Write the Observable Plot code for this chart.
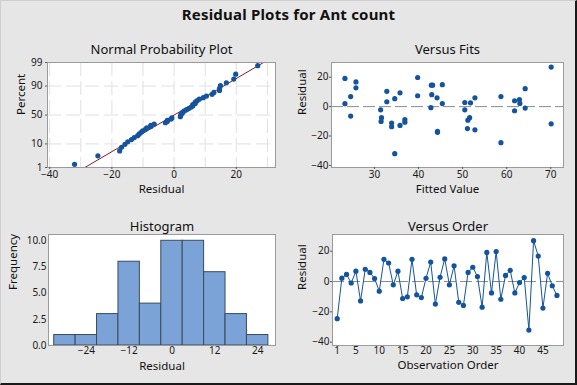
<!DOCTYPE html>
<html><head><meta charset="utf-8">
<script src="https://cdn.jsdelivr.net/npm/d3@7"></script>
<script src="https://cdn.jsdelivr.net/npm/@observablehq/plot@0.6"></script>
<style>
html,body{margin:0;padding:0;background:#e6e6e6;}
#wrap{position:relative;width:577px;height:385px;background:#e6e6e6;overflow:hidden;font-family:"Noto Sans",sans-serif;}
#title{position:absolute;left:0;top:4px;width:577px;text-align:center;font-weight:bold;font-size:15px;color:#111;letter-spacing:0.2px;}
.panel{position:absolute;}
.panel svg{overflow:visible;}
#edge{position:absolute;left:0;top:0;width:577px;height:385px;box-sizing:border-box;border-right:2px solid #1a1a1a;border-bottom:2px solid #1a1a1a;border-left:1px solid #cfcfcf;border-top:1px solid #cfcfcf;pointer-events:none;}
</style></head><body>
<div id="wrap">
<div id="title">Residual Plots for Ant count</div>
<div class="panel" id="npp" style="left:0;top:30px"></div>
<div class="panel" id="vfits" style="left:288px;top:30px"></div>
<div class="panel" id="hist" style="left:0;top:205px"></div>
<div class="panel" id="vorder" style="left:288px;top:205px"></div>
<div id="edge"></div>
</div>
<script>
// ---- data ----
const residuals = [-24.5, 2.2, 4.7, -1.0, 6.8, -12.8, 8.1, 6.0, 2.0, -6.4,
  14.6, 12.2, -2.2, 6.8, -11.2, -10.1, 14.6, -8.8, -10.6, 2.1,
  12.8, -14.9, 2.8, 14.9, -2.2, 10.4, -13.7, -15.8, 6.0, 9.4,
  3.3, -16.9, 19.2, -7.5, 19.8, -11.7, 4.0, 7.4, -7.5, -0.7,
  2.6, -32.0, 26.9, 16.8, -17.5, 5.4, -2.8, -9.2];
const fits = [58.7, 63.0, 62.9, 64.2, 24.6, 35.8, 43.0, 44.2, 23.3, 24.6,
  42.9, 64.2, 31.4, 58.7, 33.9, 31.5, 43.2, 36.9, 36.9, 45.4,
  25.8, 51.1, 50.5, 45.4, 50.5, 32.8, 33.9, 52.8, 52.8, 35.8,
  32.8, 44.3, 23.3, 31.6, 39.8, 70.1, 61.8, 39.8, 51.6, 42.8,
  51.8, 34.6, 70.1, 25.8, 44.3, 34.6, 61.8, 51.2];
const pctTicks = [1, 10, 50, 90, 99];
const pctGrid = [10, 50, 90];
const nppXTicks = [-40, -20, 0, 20];
const nppXGrid = [-40, -30, -20, -10, 0, 10, 20, 30];
const fitsXTicks = [30, 40, 50, 60, 70];
const resTicks = [20, 0, -20, -40];
const histEdges = [-33, -27, -21, -15, -9, -3, 3, 9, 15, 21, 27];
const histXTicks = [-24, -12, 0, 12, 24];
const freqTicks = [0, 2.5, 5, 7.5, 10];
const orderTicks = [1, 5, 10, 15, 20, 25, 30, 35, 40, 45];

// ---- helpers ----
function invNorm(p){
  const a=[-3.969683028665376e+01,2.209460984245205e+02,-2.759285104469687e+02,1.383577518672690e+02,-3.066479806614716e+01,2.506628277459239e+00];
  const b=[-5.447609879822406e+01,1.615858368580409e+02,-1.556989798598866e+02,6.680131188771972e+01,-1.328068155288572e+01];
  const c=[-7.784894002430293e-03,-3.223964580411365e-01,-2.400758277161838e+00,-2.549671180908510e+00,4.374664141464968e+00,2.938163982698783e+00];
  const d=[7.784695709041462e-03,3.224671290700398e-01,2.445134137142996e+00,3.754408661907416e+00];
  const pl=0.02425, ph=1-pl; let q,r;
  if(p<pl){q=Math.sqrt(-2*Math.log(p));return (((((c[0]*q+c[1])*q+c[2])*q+c[3])*q+c[4])*q+c[5])/((((d[0]*q+d[1])*q+d[2])*q+d[3])*q+1);}
  if(p<=ph){q=p-0.5;r=q*q;return (((((a[0]*r+a[1])*r+a[2])*r+a[3])*r+a[4])*r+a[5])*q/(((((b[0]*r+b[1])*r+b[2])*r+b[3])*r+b[4])*r+1);}
  q=Math.sqrt(-2*Math.log(1-p));return -(((((c[0]*q+c[1])*q+c[2])*q+c[3])*q+c[4])*q+c[5])/((((d[0]*q+d[1])*q+d[2])*q+d[3])*q+1);
}
const BLUE = "#14549c";
const FONT = "'Noto Sans', sans-serif";
const baseStyle = {background: "transparent", fontFamily: FONT, fontSize: "10px", color: "#1a1a1a", overflow: "visible"};
const frameFill = Plot.frame({fill: "white", stroke: "none"});
const frameLine = () => Plot.frame({stroke: "#9a9a9a"});
const title = (t, dy) => Plot.text([t], {frameAnchor: "top", dy, fontSize: 13, fill: "#111", fontFamily: FONT});
const xlab = (t, dy) => Plot.text([t], {frameAnchor: "bottom", dy, fontSize: 11.5, fill: "#111", fontFamily: FONT});
const ylab = (t, dx) => Plot.text([t], {frameAnchor: "left", dx, rotate: -90, fontSize: 11.5, fill: "#111", fontFamily: FONT});

// ---- Normal probability plot ----
const n = residuals.length;
const sorted = residuals.slice().sort(d3.ascending);
const nppPts = sorted.map((r, i) => ({r, z: invNorm((i + 1 - 0.3) / (n + 0.4))}));
const mu = d3.mean(residuals), sd = d3.deviation(residuals);
const zTop = invNorm(0.99), zBot = invNorm(0.01);
const fitLine = [zBot - 0.3, zTop + 0.3].map(z => ({r: mu + sd * z, z}));
const pctZ = pctTicks.map(p => invNorm(p / 100));

document.getElementById("npp").append(Plot.plot({
  width: 288, height: 173, marginLeft: 47, marginRight: 13, marginTop: 32, marginBottom: 36,
  style: baseStyle,
  x: {domain: [-40.7, 32.6], label: null},
  y: {domain: [zBot, zTop], label: null},
  marks: [
    frameFill,
    Plot.gridX(nppXGrid, {stroke: "#e0e0e0", strokeOpacity: 1, strokeDasharray: "14,5"}),
    Plot.gridY(pctGrid.map(p => invNorm(p / 100)), {stroke: "#e0e0e0", strokeOpacity: 1, strokeDasharray: "14,5"}),
    Plot.line(fitLine, {x: "r", y: "z", stroke: "#8b1a1a", strokeWidth: 1, clip: true}),
    Plot.dot(nppPts, {x: "r", y: "z", r: 2.6, fill: BLUE, stroke: "none"}),
    frameLine(),
    Plot.axisX(nppXTicks, {tickSize: 2, tickPadding: 1.5, label: null, stroke: "#555"}),
    Plot.axisY(pctZ, {tickSize: 2, tickPadding: 3, label: null, stroke: "#555", tickFormat: d => pctTicks[pctZ.indexOf(d)]}),
    title("Normal Probability Plot", -18),
    xlab("Residual", 25),
    ylab("Percent", -26)
  ]
}));

// ---- Versus fits ----
const fitPts = fits.map((f, i) => ({f, r: residuals[i]}));
document.getElementById("vfits").append(Plot.plot({
  width: 289, height: 173, marginLeft: 43, marginRight: 14, marginTop: 32, marginBottom: 36,
  style: baseStyle,
  x: {domain: [20.25, 72.9], label: null},
  y: {domain: [-41.4, 30], label: null},
  marks: [
    frameFill,
    Plot.ruleY([0], {stroke: "#8c8c8c", strokeDasharray: "12,4"}),
    Plot.dot(fitPts, {x: "f", y: "r", r: 2.6, fill: BLUE, stroke: "none"}),
    frameLine(),
    Plot.axisX(fitsXTicks, {tickSize: 2, tickPadding: 1.5, label: null, stroke: "#555"}),
    Plot.axisY(resTicks, {tickSize: 2, tickPadding: 1, label: null, stroke: "#555"}),
    title("Versus Fits", -18),
    xlab("Fitted Value", 25),
    ylab("Residual", -29)
  ]
}));

// ---- Histogram ----
const bins = d3.bin().domain([histEdges[0], histEdges[histEdges.length - 1]]).thresholds(histEdges.slice(1, -1))(residuals);
document.getElementById("hist").append(Plot.plot({
  width: 288, height: 180, marginLeft: 48, marginRight: 13, marginTop: 29, marginBottom: 40,
  style: baseStyle,
  x: {domain: [-34.6, 29], label: null},
  y: {domain: [0, 10.6], label: null},
  marks: [
    frameFill,
    Plot.rectY(bins, {x1: d => d.x0, x2: d => d.x1, y: d => d.length, fill: "#7ba3d8", stroke: "#3b4a5c", strokeWidth: 1}),
    frameLine(),
    Plot.axisX(histXTicks, {tickSize: 0, tickPadding: 1.5, label: null}),
    Plot.axisY(freqTicks, {tickSize: 0, tickPadding: 2, label: null, tickFormat: d3.format(".1f")}),
    title("Histogram", -12.6),
    xlab("Residual", 24),
    ylab("Frequency", -35)
  ]
}));

// ---- Versus order ----
const ordPts = residuals.map((r, i) => ({o: i + 1, r}));
document.getElementById("vorder").append(Plot.plot({
  width: 289, height: 180, marginLeft: 44, marginRight: 14, marginTop: 29, marginBottom: 40,
  style: baseStyle,
  x: {domain: [0, 49.4], label: null},
  y: {domain: [-42.2, 31], label: null},
  marks: [
    frameFill,
    Plot.ruleY([0], {stroke: "#8c8c8c", strokeDasharray: "12,4"}),
    Plot.line(ordPts, {x: "o", y: "r", stroke: BLUE, strokeWidth: 1}),
    Plot.dot(ordPts, {x: "o", y: "r", r: 2.6, fill: BLUE, stroke: "none"}),
    frameLine(),
    Plot.axisX(orderTicks, {tickSize: 0, tickPadding: 1.5, label: null}),
    Plot.axisY(resTicks, {tickSize: 2, tickPadding: 1, label: null, stroke: "#555"}),
    title("Versus Order", -13),
    xlab("Observation Order", 23.3),
    ylab("Residual", -30)
  ]
}));
</script>
</body></html>
